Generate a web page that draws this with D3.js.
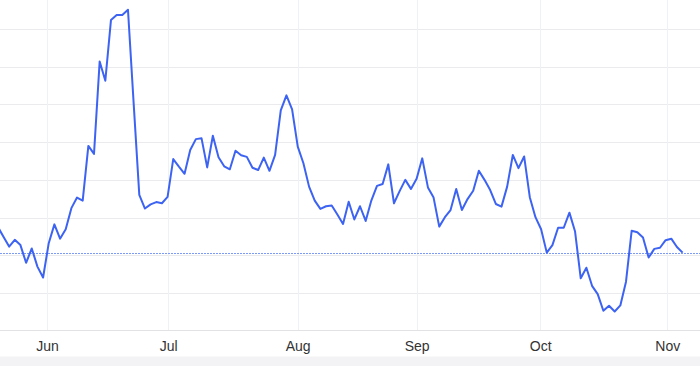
<!DOCTYPE html>
<html>
<head>
    <meta charset="utf-8">
    <title>Line chart</title>
    <script src="https://d3js.org/d3.v7.min.js"></script>
    <style>
        html, body {
            margin: 0;
            padding: 0;
            background: #fff;
        }

        .grid line {
            stroke: #ebebed;
            stroke-width: 1;
        }

        .vgrid line {
            stroke: #eef2f5;
            stroke-width: 1;
        }

        .x-axis text {
            font-family: "Liberation Sans", Helvetica, Arial, sans-serif;
            font-size: 14px;
            fill: #333;
        }

        .price-line {
            fill: none;
            stroke: #3d63f2;
            stroke-width: 2;
            stroke-linejoin: round;
        }

        .ref-line {
            stroke: #7d9bf5;
            stroke-width: 1;
            stroke-dasharray: 2 1;
        }
    </style>
</head>
<body>
    <div id="chart"></div>

    <script>
        // nilai per hari bursa (urut), satuan = satu garis grid
        const values = [
            2.76, 2.49, 2.23, 2.41, 2.27, 1.80, 2.18, 1.70, 1.41, 2.32,
            2.82, 2.44, 2.69, 3.25, 3.53, 3.45, 4.90, 4.69, 7.14, 6.63,
            8.24, 8.37, 8.37, 8.51, 6.04, 3.60, 3.24, 3.35, 3.41, 3.38,
            3.55, 4.55, 4.35, 4.16, 4.79, 5.08, 5.10, 4.33, 5.17, 4.60,
            4.36, 4.28, 4.77, 4.65, 4.61, 4.32, 4.26, 4.59, 4.24, 4.66,
            5.84, 6.24, 5.87, 4.88, 4.44, 3.82, 3.45, 3.23, 3.30, 3.32,
            3.08, 2.83, 3.42, 2.95, 3.30, 2.91, 3.45, 3.84, 3.89, 4.41,
            3.38, 3.70, 4.00, 3.76, 4.03, 4.57, 3.80, 3.53, 2.76, 3.01,
            3.20, 3.76, 3.20, 3.49, 3.71, 4.24, 4.00, 3.73, 3.36, 3.29,
            3.82, 4.66, 4.31, 4.62, 3.54, 3.01, 2.69, 2.07, 2.27, 2.73,
            2.73, 3.13, 2.63, 1.39, 1.67, 1.19, 0.97, 0.53, 0.66, 0.51,
            0.67, 1.30, 2.65, 2.61, 2.47, 1.94, 2.17, 2.20, 2.40, 2.44,
            2.22, 2.07
        ];

        // garis putus-putus (nilai acuan)
        const refValue = 2.07;

        // label bulan dan posisinya (dalam indeks hari bursa)
        const monthLabels = ["Jun", "Jul", "Aug", "Sep", "Oct", "Nov"];
        const monthPos = [8.69, 30.12, 52.99, 74.01, 95.85, 118.29];

        // garis grid horizontal
        const gridTicks = [1, 2, 3, 4, 5, 6, 7, 8];

        const width = 700;
        const height = 366;
        const plotBottom = 330.7;

        const svg = d3.select("#chart")
            .append("svg")
            .attr("width", width)
            .attr("height", height)
            .style("display", "block");

        const xScale = d3.scaleLinear()
            .domain([0, values.length - 1])
            .range([-2.2, 682.6]);

        const yScale = d3.scaleLinear()
            .domain([0, 8])
            .range([plotBottom, 29]);

        // grid horizontal
        svg.append("g")
            .attr("class", "grid")
            .selectAll("line")
            .data(gridTicks)
            .enter()
            .append("line")
            .attr("x1", 0)
            .attr("x2", width)
            .attr("y1", d => Math.round(yScale(d)) + 0.5)
            .attr("y2", d => Math.round(yScale(d)) + 0.5);

        // grid vertikal di tiap awal bulan
        svg.append("g")
            .attr("class", "vgrid")
            .selectAll("line")
            .data(monthPos)
            .enter()
            .append("line")
            .attr("x1", d => Math.round(xScale(d)) + 0.5)
            .attr("x2", d => Math.round(xScale(d)) + 0.5)
            .attr("y1", 0)
            .attr("y2", plotBottom);

        // garis acuan
        svg.append("line")
            .attr("class", "ref-line")
            .attr("x1", 0)
            .attr("x2", width)
            .attr("y1", Math.round(yScale(refValue)) + 0.5)
            .attr("y2", Math.round(yScale(refValue)) + 0.5);

        // garis harga
        const line = d3.line()
            .x((d, i) => xScale(i))
            .y(d => yScale(d));

        svg.append("path")
            .datum(values)
            .attr("class", "price-line")
            .attr("d", line);

        // sumbu X
        const xAxis = d3.axisBottom(xScale)
            .tickValues(monthPos)
            .tickFormat((d, i) => monthLabels[i])
            .tickSize(0)
            .tickPadding(11);

        const gx = svg.append("g")
            .attr("class", "x-axis")
            .attr("transform", `translate(0,${Math.round(plotBottom) - 0.5})`)
            .call(xAxis);

        gx.select(".domain").remove();

        gx.append("line")
            .attr("x1", 0)
            .attr("x2", width)
            .attr("stroke", "#e2e2e4");

        // pita abu-abu di bawah
        svg.append("rect")
            .attr("x", 0)
            .attr("y", 356.5)
            .attr("width", width)
            .attr("height", height - 356.5)
            .attr("fill", "#f3f3f5");
    </script>
</body>
</html>
